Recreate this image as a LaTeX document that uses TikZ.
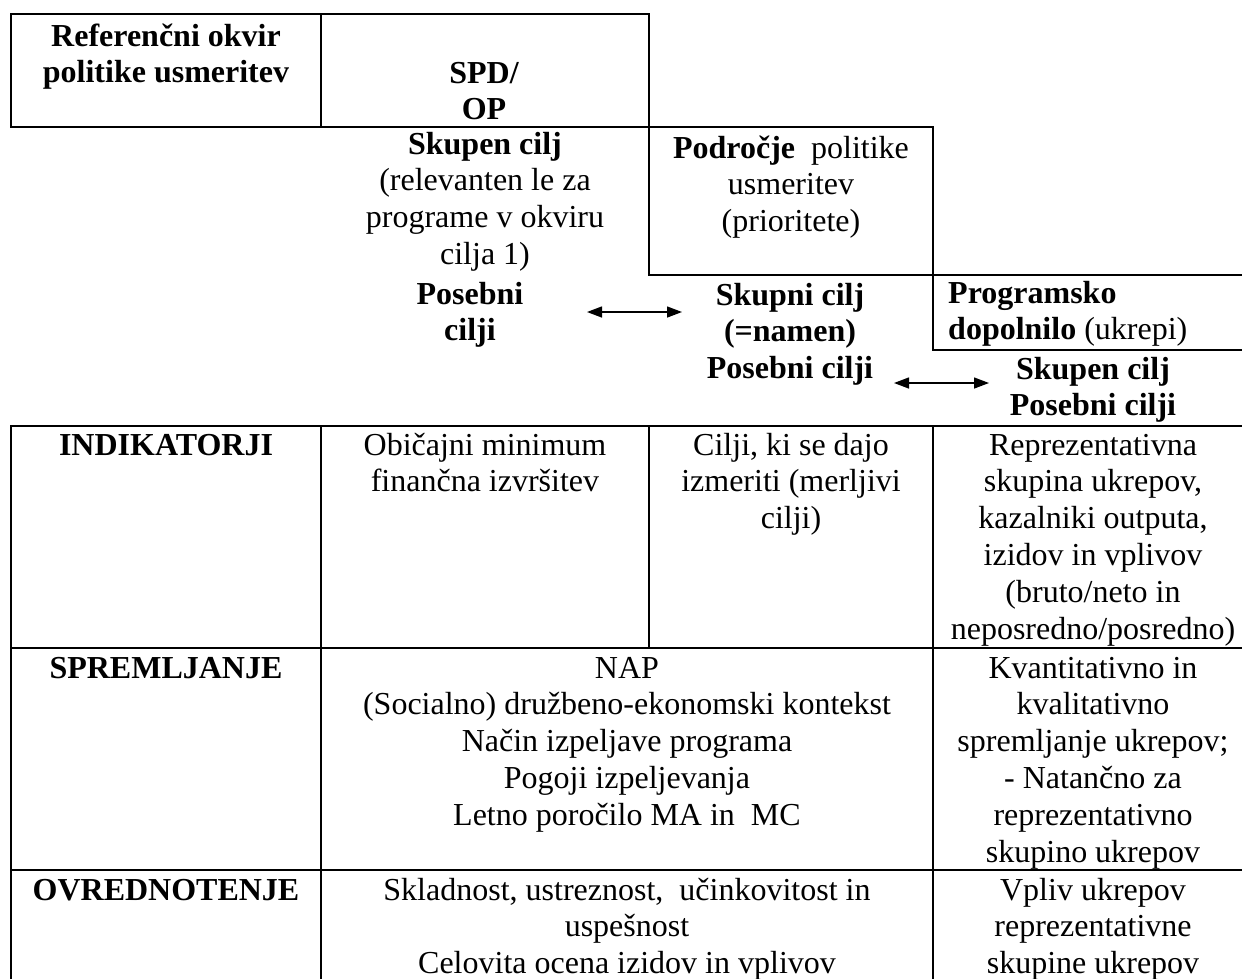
\documentclass[tikz,border=0pt]{standalone}
\usepackage{fontspec}
\setmainfont{Liberation Serif}
\usetikzlibrary{arrows.meta}
\newcommand\tb[2][c]{\begin{tabular}[t]{@{}#1@{}}#2\end{tabular}}
\tikzset{
  txt/.style={font=\fontsize{32}{36.8}\selectfont, inner sep=0pt, anchor=base},
  btxt/.style={font=\fontsize{32}{36.8}\selectfont\bfseries, inner sep=0pt, anchor=base},
  frame/.style={line width=2pt, line cap=rect},
  arr/.style={{Triangle[length=15pt,width=11pt]}-{Triangle[length=15pt,width=11pt]}, line width=1.4pt}
}
\begin{document}
\begin{tikzpicture}[x=1pt,y=-1pt]
\useasboundingbox (0,0) rectangle (1242,978);
\clip (0,0) rectangle (1242,978);
% upper frames
\draw[frame] (11,14) rectangle (649,127);
\draw[frame] (321,14) -- (321,127);
\draw[frame] (649,127) -- (933,127) -- (933,275);
\draw[frame] (649,127) -- (649,275) -- (1260,275);
\draw[frame] (933,275) -- (933,350) -- (1260,350);
% table
\draw[frame] (11,1000) -- (11,426) -- (1260,426);
\draw[frame] (11,648) -- (1260,648);
\draw[frame] (11,870) -- (1260,870);
\draw[frame] (321,426) -- (321,1000);
\draw[frame] (649,426) -- (649,648);
\draw[frame] (933,426) -- (933,1000);
\draw[frame] (1253,426) -- (1253,1000);
% header texts
\node[btxt] (ref) at (166,46) {\tb{Referenčni okvir\\politike usmeritev}};
\node[btxt] (spd) at (484,83) {\tb{SPD/\\OP}};
\node[txt] (skupen1) at (485,154) {\tb{\textbf{Skupen cilj}\\(relevanten le za\\programe v okviru\\cilja 1)}};
\node[btxt] (posebni1) at (470,304) {\tb{Posebni\\cilji}};
\node[txt] (podrocje) at (791,158) {\tb{\textbf{Področje}\hspace{0.5em}politike\\usmeritev\\(prioritete)}};
\node[btxt] (skupni) at (790,305) {\tb{Skupni cilj\\(=namen)\\Posebni cilji}};
\node[txt, anchor=base west] (prog) at (948,303) {\tb[l]{\textbf{Programsko}\\\textbf{dopolnilo} (ukrepi)}};
\node[btxt] (skupen2) at (1093,379) {\tb{Skupen cilj\\Posebni cilji}};
% arrows
\coordinate (a1l) at (587,312);
\coordinate (a1r) at (682,312);
\coordinate (a2l) at (894,383);
\coordinate (a2r) at (989,383);
\draw[arr] (a1l) -- (a1r);
\draw[arr] (a2l) -- (a2r);
% table texts
\node[btxt] (ind) at (166,455) {INDIKATORJI};
\node[btxt] (spr) at (166,678) {SPREMLJANJE};
\node[btxt] (ovr) at (166,900) {OVREDNOTENJE};
\node[txt] (obic) at (485,455) {\tb{Običajni minimum\\finančna izvršitev}};
\node[txt] (cilji) at (791,455) {\tb{Cilji, ki se dajo\\izmeriti (merljivi\\cilji)}};
\node[txt] (repr) at (1093,455) {\tb{Reprezentativna\\skupina ukrepov,\\kazalniki outputa,\\izidov in vplivov\\(bruto/neto in\\neposredno/posredno)}};
\node[txt] (nap) at (627,678) {\tb{NAP\\(Socialno) družbeno-ekonomski kontekst\\Način izpeljave programa\\Pogoji izpeljevanja\\Letno poročilo MA in\ \ MC}};
\node[txt] (kvant) at (1093,678) {\tb{Kvantitativno in\\kvalitativno\\spremljanje ukrepov;\\- Natančno za\\reprezentativno\\skupino ukrepov}};
\node[txt] (sklad) at (627,900) {\tb{Skladnost, ustreznost,\ \ učinkovitost in\\uspešnost\\Celovita ocena izidov in vplivov}};
\node[txt] (vpliv) at (1093,900) {\tb{Vpliv ukrepov\\reprezentativne\\skupine ukrepov}};
\end{tikzpicture}
\end{document}
